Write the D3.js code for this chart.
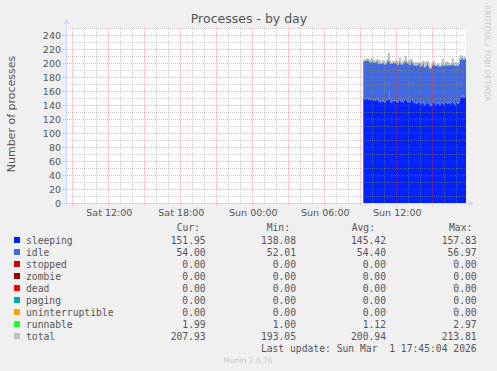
<!DOCTYPE html>
<html><head><meta charset="utf-8">
<script src="https://cdn.jsdelivr.net/npm/d3@7"></script>
<style>
html,body{margin:0;padding:0;background:#f0f0f0;}
svg{display:block;}
text{font-family:"DejaVu Sans",sans-serif;}
.mono{font-family:"DejaVu Sans Mono",monospace;white-space:pre;}
</style></head>
<body>
<script>
// ---- data (5-minute samples, Sun 1 Mar 2026 09:15 .. 17:45) ----
const sleeping = [148.4,149.1,147.6,148.9,150.3,147.2,148.5,146.9,149.7,147.8,146.4,148.1,145.9,147.3,149.0,
144.6,146.2,143.8,145.1,147.4,144.3,142.9,145.6,146.8,148.2,157.8,147.5,144.1,143.2,145.9,146.7,
144.8,147.1,145.3,143.6,146.4,148.9,145.2,143.9,146.1,144.5,147.6,149.2,146.3,144.0,145.8,143.4,146.9,148.1,145.5,143.7,
142.4,144.1,141.7,143.5,145.2,142.8,140.9,143.3,144.7,142.1,139.6,141.8,143.9,145.6,142.3,140.4,138.1,141.2,143.4,144.8,142.6,140.1,141.9,143.7,142.2,139.8,141.5,144.3,143.0,140.7,
142.5,144.6,143.1,141.4,145.3,142.7,141.0,143.8,145.1,142.4,140.6,142.9,144.2,141.3,143.5,
149.8,152.6,151.1,153.4,150.7,152.2,151.95];
const idle = [54.2,53.8,55.1,54.6,53.9,55.4,54.1,53.5,54.8,55.2,54.0,53.6,54.9,55.3,54.4,
53.7,54.5,55.0,53.9,54.2,55.6,54.8,53.4,54.1,55.2,54.7,53.8,54.3,55.5,54.0,53.6,
54.9,55.1,54.2,53.7,54.6,55.8,54.3,53.9,54.5,55.0,54.1,53.5,54.8,55.4,54.0,53.8,54.7,55.2,54.4,53.6,
54.1,55.3,54.6,53.2,54.8,55.7,54.0,53.5,54.9,56.97,54.3,53.8,54.5,55.1,53.9,52.01,54.2,55.0,54.6,53.7,54.4,55.5,54.1,53.3,54.8,55.2,54.0,53.6,54.7,55.4,
54.3,53.9,55.0,54.5,53.4,54.8,55.6,54.1,53.7,54.9,55.2,54.0,53.5,54.6,55.1,
54.4,53.8,55.3,54.2,53.9,54.6,54.00];
const stopped = new Array(103).fill(0);
const zombie = new Array(103).fill(0);
const dead = new Array(103).fill(0);
const paging = new Array(103).fill(0);
const uninterruptible = new Array(103).fill(0);
const runnable = [1,1,1,2,1,1,1,1,1,1,1,1,1,1,1,
1,1,1,1,2,1,1,1,1,1,1,1,2,1,1,1,
1,1,1,1,1,1,1,1,1,1,1,1,1,1,2.97,1,1,1,1,1,
1,1,1,1,1,1,1,1,1,2,1,1,1,1,1,1,1,1,1,1,1,1,1,1,1,1,1,1,1,1,
1,1,1,1,1,1,1,1,2,1,1,1,1,1,1,
1,1,1,1,1,1,1.99];
const total = [203.6,204.8,203.7,205.5,206.1,203.6,204.2,201.4,206.3,204.0,202.3,202.7,201.8,204.5,204.4,
199.3,203.2,199.8,200.0,203.6,202.1,198.7,200.0,203.4,204.4,213.8,203.1,200.4,199.7,202.5,201.3,
200.7,203.2,202.4,198.3,202.0,207.1,200.5,198.8,201.6,203.9,202.7,208.7,202.1,200.4,202.8,198.2,204.8,204.3,200.9,198.3,
197.5,200.4,197.3,199.6,201.0,199.5,195.9,197.8,202.4,201.1,194.9,196.6,201.8,201.7,197.2,193.4,193.05,197.2,199.0,202.3,198.0,196.6,197.0,198.0,198.0,196.0,196.5,198.9,204.9,197.1,
197.8,199.5,201.6,196.9,199.7,198.5,197.6,198.9,205.8,198.3,196.8,200.4,198.7,196.9,199.6,
205.2,210.6,207.4,208.6,205.6,207.8,207.93];

const seriesNames = ["sleeping","idle","stopped","zombie","dead","paging","uninterruptible","runnable","total"];
const seriesColors = ["#0022ff","#4169e1","#cc0000","#990000","#ff0000","#00aaaa","#ffa500","#22ff22","#c0c0c0"];
const curVals = ["151.95","54.00","0.00","0.00","0.00","0.00","0.00","1.99","207.93"];
const minVals = ["138.08","52.01","0.00","0.00","0.00","0.00","0.00","1.00","193.05"];
const avgVals = ["145.42","54.40","0.00","0.00","0.00","0.00","0.00","1.12","200.94"];
const maxVals = ["157.83","56.97","0.00","0.00","0.00","0.00","0.00","2.97","213.81"];
const yTicks = [0,20,40,60,80,100,120,140,160,180,200,220,240];
const title = "Processes - by day";
const yTitle = "Number of processes";
const lastUpdate = "Last update: Sun Mar  1 17:45:04 2026";

// ---- layout ----
const W = 497, H = 371;
const X0 = 66, X1 = 466, Y0 = 203, Y1 = 28;
const tStart = new Date(2026,1,28,8,28,30), tEnd = new Date(2026,2,1,17,48,30);
const firstSample = new Date(2026,2,1,9,15,0);
const step = 5*60*1000;

const svg = d3.select("body").append("svg").attr("width",W).attr("height",H);
svg.append("rect").attr("width",W).attr("height",H).attr("fill","#f0f0f0");

const x = d3.scaleTime().domain([tStart,tEnd]).range([X0,X1]);
const y = d3.scaleLinear().domain([0,250]).range([Y0,Y1]);

svg.append("rect").attr("x",X0).attr("y",Y1).attr("width",X1-X0).attr("height",Y0-Y1).attr("fill","#ffffff");

const rows = sleeping.map((v,i)=>({t:new Date(+firstSample+i*step), sleeping:v, idle:idle[i], stopped:stopped[i],
  zombie:zombie[i], dead:dead[i], paging:paging[i], uninterruptible:uninterruptible[i], runnable:runnable[i], total:total[i]}));
const last = rows[rows.length-1];
rows.push(Object.assign({}, last, {t:new Date(+last.t+step)}));

svg.append("clipPath").attr("id","clip").append("rect").attr("x",X0).attr("y",Y1).attr("width",X1-X0).attr("height",Y0-Y1);
const g = svg.append("g").attr("clip-path","url(#clip)");

const stackKeys = seriesNames.slice(0,8);
const stacked = d3.stack().keys(stackKeys)(rows);
stacked.forEach((s,k)=>{
  g.append("path").datum(s).attr("fill",seriesColors[k])
   .attr("d", d3.area().curve(d3.curveStepAfter).x(d=>x(d.data.t)).y0(d=>y(d[0])).y1(d=>y(d[1])));
});
// total drawn as a 1px line on top of the stack
g.append("path").datum(rows).attr("fill","none").attr("stroke","#c0c0c0").attr("stroke-width",1.2)
  .attr("d", d3.line().curve(d3.curveStepAfter).x(d=>x(d.t)).y(d=>y(d.total)));

// grid on top
const grid = svg.append("g");
const minorY = d3.range(10,251,20);
minorY.forEach(v=>{
  grid.append("line").attr("x1",X0).attr("x2",X1).attr("y1",Math.round(y(v))+0.5).attr("y2",Math.round(y(v))+0.5)
   .attr("stroke","rgba(140,140,140,0.45)").attr("stroke-dasharray","1,1");
});
const hours = d3.timeHour.range(d3.timeHour.ceil(tStart), tEnd);
hours.forEach(h=>{
  const major = h.getHours()%3===0;
  const px = Math.round(x(h))+0.5;
  grid.append("line").attr("x1",px).attr("x2",px).attr("y1",Y1).attr("y2",Y0+ (major?3:0))
   .attr("stroke", major ? "rgba(230,80,80,0.42)" : "rgba(140,140,140,0.45)").attr("stroke-dasharray","1,1");
});
yTicks.forEach(v=>{
  if(v===0) return;
  const py = Math.round(y(v))+0.5;
  grid.append("line").attr("x1",X0-3).attr("x2",X1).attr("y1",py).attr("y2",py)
   .attr("stroke","rgba(230,80,80,0.42)").attr("stroke-dasharray","1,1");
});

// axes
const axisColor = "#cfd6f8";
svg.append("line").attr("x1",X0-3).attr("x2",X1+3).attr("y1",Y0+0.5).attr("y2",Y0+0.5).attr("stroke",axisColor);
svg.append("line").attr("x1",X0+0.5).attr("x2",X0+0.5).attr("y1",Y0+3).attr("y2",Y1-4).attr("stroke",axisColor);
svg.append("path").attr("d",`M${X1+3},${Y0-2.5}L${X1+8},${Y0+0.5}L${X1+3},${Y0+3.5}Z`).attr("fill",axisColor);
svg.append("path").attr("d",`M${X0-2.5},${Y1-4}L${X0+0.5},${Y1-9}L${X0+3.5},${Y1-4}Z`).attr("fill",axisColor);

// y tick labels
const yAxis = d3.axisLeft(y).tickValues(yTicks).tickSize(0).tickPadding(5);
const ya = svg.append("g").attr("transform",`translate(${X0},0.5)`).call(yAxis);
ya.select(".domain").remove();
ya.selectAll("text").attr("fill","#555").style("font-size","9.5px").style("font-family","DejaVu Sans");

// x tick labels
const labelHours = hours.filter(h=>h.getHours()%6===0);
const xAxis = d3.axisBottom(x).tickValues(labelHours).tickFormat(d3.timeFormat("%a %H:%M")).tickSize(0).tickPadding(6);
const xa = svg.append("g").attr("transform",`translate(0.5,${Y0})`).call(xAxis);
xa.select(".domain").remove();
xa.selectAll("text").attr("fill","#555").style("font-size","9.5px").style("font-family","DejaVu Sans");

// titles
svg.append("text").attr("x",249).attr("y",23).attr("text-anchor","middle").attr("fill","#555")
  .style("font-size","12.5px").text(title);
svg.append("text").attr("transform","translate(15,114) rotate(-90)").attr("text-anchor","middle").attr("fill","#555")
  .style("font-size","11px").text(yTitle);
svg.append("text").attr("transform","translate(485,5) rotate(90)").attr("text-anchor","start").attr("fill","#c8c8c8")
  .style("font-size","7.5px").text("RRDTOOL / TOBI OETIKER");

// legend
const leg = svg.append("g").style("font-size","9.7px");
const headers = [["Cur:",176.7],["Min:",266.7],["Avg:",351.7],["Max:",449]];
headers.forEach(h=>leg.append("text").attr("class","mono").attr("x",h[1]).attr("y",231).attr("fill","#555").text(h[0]));
const colsX = [205.7,296,386,476.7];
const cols = [curVals,minVals,avgVals,maxVals];
seriesNames.forEach((n,i)=>{
  const cy = 240 + i*12;
  leg.append("rect").attr("x",14).attr("y",cy-3).attr("width",6).attr("height",6).attr("fill",seriesColors[i]);
  leg.append("text").attr("class","mono").attr("x",26).attr("y",cy+3.5).attr("fill","#555").text(n);
  cols.forEach((c,j)=>leg.append("text").attr("class","mono").attr("x",colsX[j]).attr("y",cy+3.5)
     .attr("text-anchor","end").attr("fill","#555").text(c[i]));
});
leg.append("text").attr("class","mono").attr("x",476.7).attr("y",348+3.5).attr("text-anchor","end").attr("fill","#555").text(lastUpdate);

svg.append("text").attr("x",248).attr("y",363).attr("text-anchor","middle").attr("fill","#c8c8c8")
  .style("font-size","7.5px").text("Munin 2.0.76");
</script>
</body></html>
